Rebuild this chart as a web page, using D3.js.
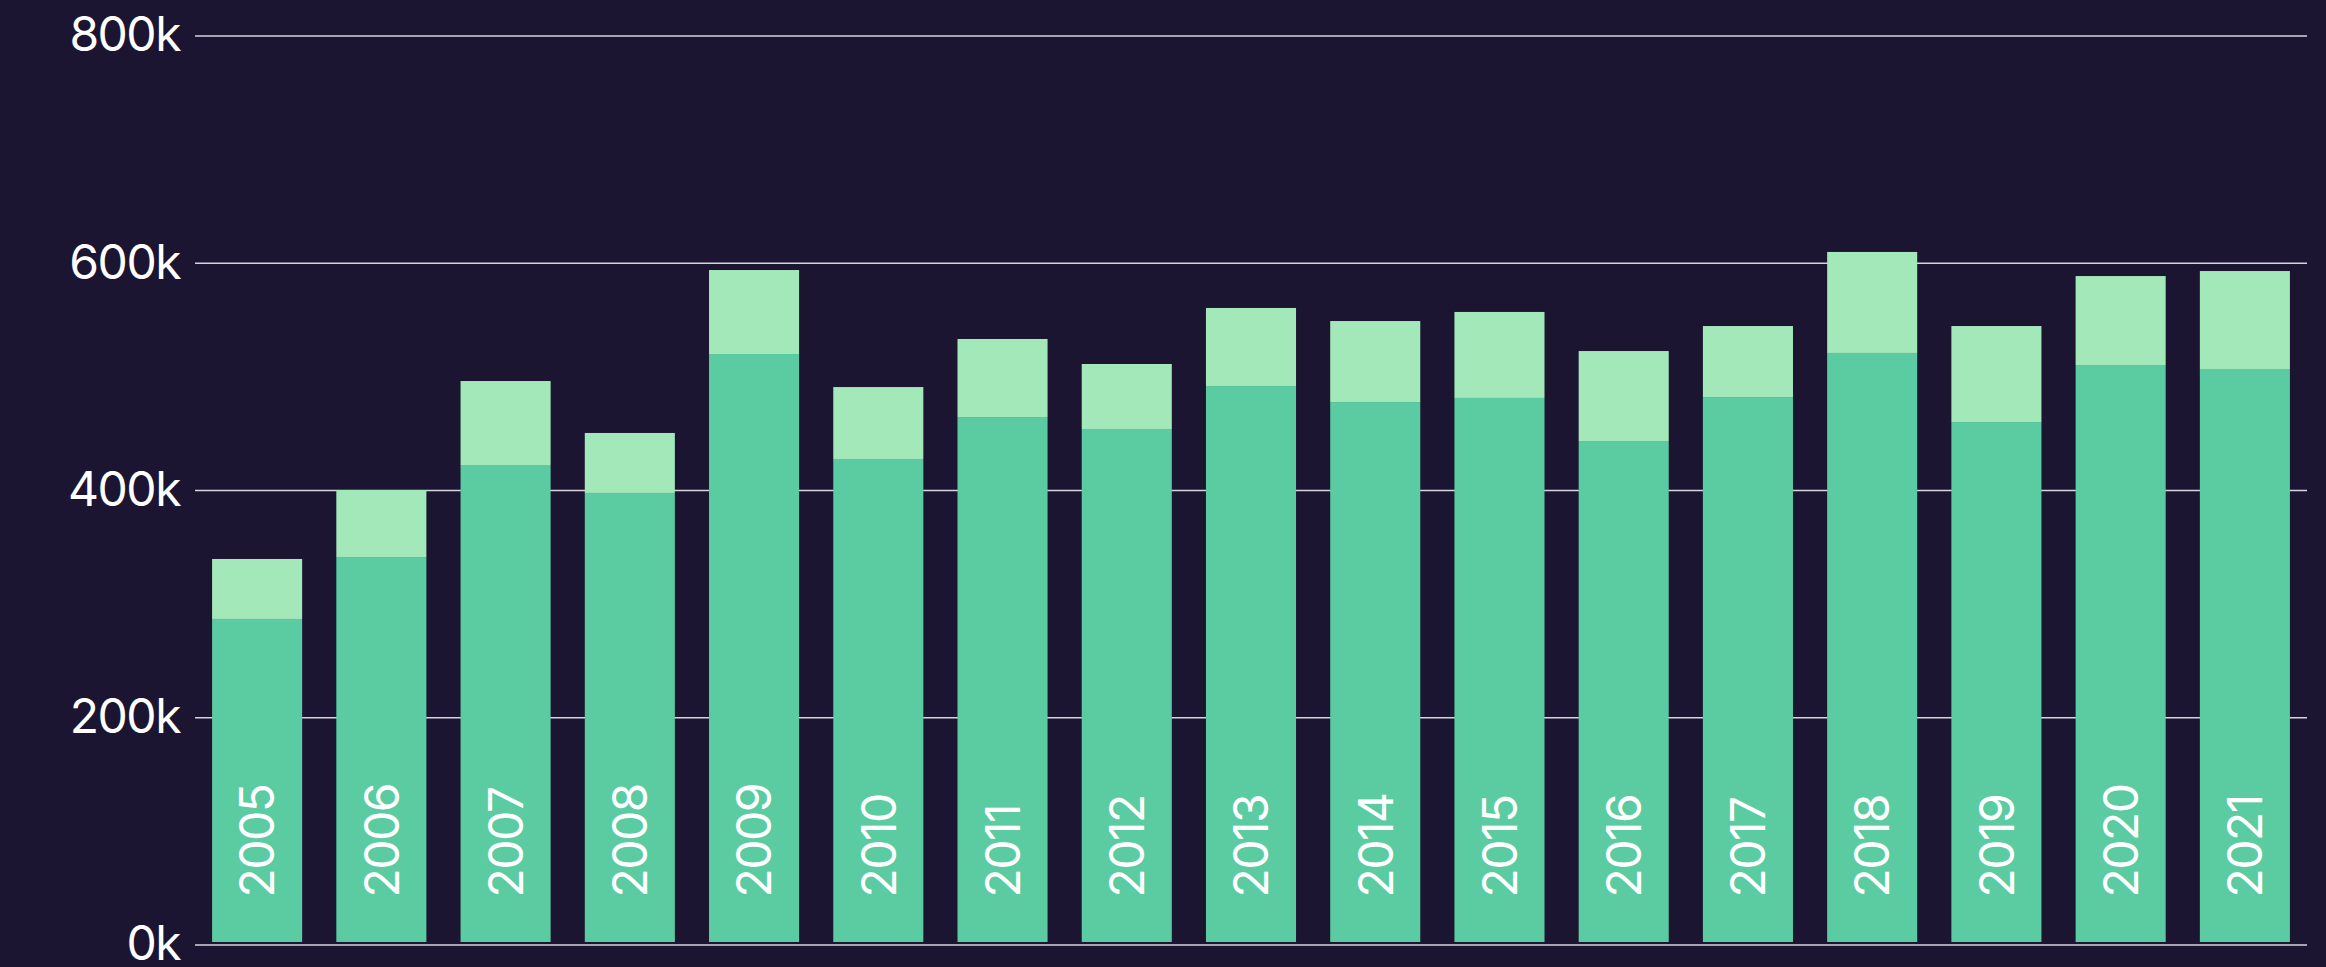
<!DOCTYPE html>
<html>
<head>
<meta charset="utf-8">
<script src="https://cdn.jsdelivr.net/npm/d3@7"></script>
<style>
  html, body { margin: 0; padding: 0; background: #1b1532; }
  svg { display: block; }
  .axis text { fill: #ffffff; font-family: Inter, sans-serif; font-size: 48px; letter-spacing: -1.5px; }
  .axis line { stroke: #d6d4de; stroke-width: 1.4; }
  .axis path { display: none; }
  .year { fill: #ffffff; font-family: Inter, sans-serif; font-size: 48px; letter-spacing: -1.5px; }
</style>
</head>
<body>
<svg id="chart"></svg>
<script>
// Categories
var years = ["2005", "2006", "2007", "2008", "2009", "2010", "2011", "2012", "2013",
             "2014", "2015", "2016", "2017", "2018", "2019", "2020", "2021"];

// Lower (darker) series
var lower = [286500, 341000, 422000, 397400, 519700, 427300, 464200, 453700, 491500,
             477400, 481000, 443100, 481800, 520600, 459800, 510000, 506500];

// Upper (lighter) series, stacked on top
var upper = [52800, 59000, 73900, 52800, 73900, 63300, 68700, 57200, 68700,
             71300, 75700, 79200, 62500, 88900, 84500, 78300, 86200];

// Y tick values
var yTicks = [0, 200000, 400000, 600000, 800000];

// SVG size params
var width = 2326;
var height = 967;
var margin = {top: 35.5, right: 19, bottom: 22.5, left: 195};

var svg = d3.select("#chart")
    .attr("width", width)
    .attr("height", height);

// Scales
var x = d3.scaleBand()
    .domain(years)
    .range([margin.left, width - margin.right])
    .paddingInner(0.275)
    .paddingOuter(0.1375);

var y = d3.scaleLinear()
    .domain([0, 800000])
    .range([height - margin.bottom, margin.top]);

// Grid lines + labels
var yAxis = d3.axisLeft(y)
    .tickValues(yTicks)
    .tickSize(-(width - margin.left - margin.right))
    .tickPadding(15)
    .tickFormat(function(d) { return (d / 1000) + "k"; });

svg.append("g")
    .attr("class", "axis")
    .attr("transform", "translate(" + margin.left + ",0)")
    .call(yAxis);

// Stack data
var rows = years.map(function(yr, i) {
  return {year: yr, lower: lower[i], upper: upper[i]};
});
var stack = d3.stack().keys(["lower", "upper"]);
var series = stack(rows);
var colors = {lower: "#5bcba1", upper: "#a3e8b9"};

// Bars sit a little above the baseline
var gap = 2.5;

svg.append("g")
  .selectAll("g")
  .data(series)
  .enter().append("g")
    .attr("fill", function(s) { return colors[s.key]; })
  .selectAll("rect")
  .data(function(s) { return s; })
  .enter().append("rect")
    .attr("x", function(d) { return x(d.data.year); })
    .attr("width", x.bandwidth())
    .attr("y", function(d) { return y(d[1]); })
    .attr("height", function(d) {
      var bottom = d[0] === 0 ? y(0) - gap : y(d[0]);
      return bottom - y(d[1]);
    });

// Year labels inside bars
svg.append("g")
  .selectAll("text")
  .data(years)
  .enter().append("text")
    .attr("class", "year")
    .attr("transform", function(d) {
      return "translate(" + (x(d) + x.bandwidth() / 2) + "," + (y(0) - 47) + ") rotate(-90)";
    })
    .attr("dy", "0.36em")
    .attr("text-anchor", "start")
    .text(function(d) { return d; });
</script>
</body>
</html>
